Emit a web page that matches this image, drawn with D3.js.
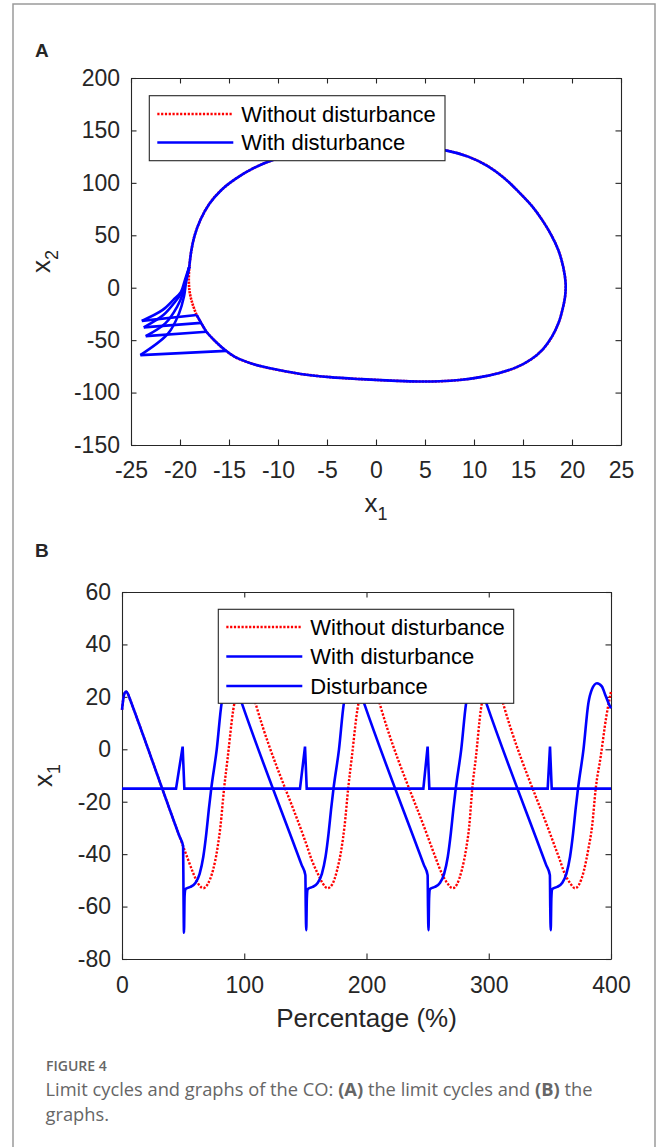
<!DOCTYPE html>
<html>
<head>
<meta charset="utf-8">
<script src="https://d3js.org/d3.v7.min.js"></script>
<style>
body { margin: 0; background: #fff; }
svg { display: block; }
.axis text { font-family: "Liberation Sans", Arial, sans-serif; font-size: 23px; fill: #262626; }
.axis path, .axis line { stroke: #262626; stroke-width: 1.1; }
.lab { font-family: "Liberation Sans", Arial, sans-serif; fill: #262626; }
.leg { font-family: "Liberation Sans", Arial, sans-serif; font-size: 22px; fill: #000; }
.cap { font-family: "Open Sans", "Noto Sans", sans-serif; fill: #666; }
</style>
</head>
<body>
<svg id="fig" width="659" height="1147"></svg>
<script>
// ---- panel A: limit cycle in the (x1, x2) plane, clockwise from the join point
var cycleX1 = [-19.05, -18.85, -18.5, -17.9, -17.0, -15.8, -14.3, -12.5, -10.3, -7.5, -4, 0, 4, 7.1, 9.4, 11.4, 13.1,
    14.6, 15.9, 17.0, 17.9, 18.6, 19.1, 19.35, 19.3, 19.05, 18.65, 18.0, 17.05, 15.8, 14.3, 12.5, 10.5, 8.5, 6.5, 4.3,
    2.1, -1.5, -4.7, -7.5, -9.8, -11.7, -13.2, -14.4, -15.3, -16.3, -17.3, -17.85, -18.3, -18.7, -19.0, -19.1, -19.05];
var cycleX2 = [20, 35, 50, 65, 80, 93, 104, 114, 122.5, 128.5, 132.5, 134.5, 134, 131, 125, 116, 104.5,
    91, 78, 64, 50, 36, 20, 4, -8, -20, -33, -46, -58.5, -68.5, -76, -81.5, -85.5, -88, -89.2, -89.4,
    -88.8, -87.2, -85.3, -82.5, -78.8, -75, -70.7, -66, -60.2, -52, -42, -33.5, -26, -16, -5, 7, 20];
var blueEnd = 48; // index where the last kick leaves the cycle

// the four kicks: start on the cycle, jump left, then curve back
var kickX1 = [-15.3, -17.3, -17.85, -18.3];
var kickX2 = [-60.2, -42, -33.5, -26];
var backX1 = [
    [-24.05, -21.2, -20.1, -19.6, -19.4, -19.05],
    [-23.5, -21.5, -20.3, -19.7, -19.4, -19.05],
    [-23.7, -21.7, -20.5, -19.8, -19.4, -19.05],
    [-23.9, -21.8, -20.7, -19.9, -19.5, -19.05]
];
var backX2 = [
    [-64.3, -43.6, -24.5, -8.7, 4.1, 20],
    [-46.2, -34, -18.2, -5.4, 7.3, 20],
    [-37.8, -26.1, -13.4, -3.9, 7.3, 20],
    [-31.6, -21.4, -11.8, -3.9, 7.3, 20]
];

var ticksAx = [-25, -20, -15, -10, -5, 0, 5, 10, 15, 20, 25];
var ticksAy = [-150, -100, -50, 0, 50, 100, 150, 200];

// ---- panel B: x1 against percentage
var redT = [0, 1, 2.2, 3.5, 5, 7, 47, 50, 54, 58.3, 62, 66.5, 70, 74.5, 78, 80.5, 83.5, 86.5, 91, 94, 99, 104, 108, 110.5,
    148, 151, 155, 160, 164, 168, 172, 176, 179.5, 182, 185, 188, 192.5, 195.5, 200.5, 205.5, 209.5, 212,
    250, 253, 257, 261.5, 266, 270.5, 274, 278, 281.5, 284, 286.5, 289.5, 293.5, 296.5, 301.5, 306.5, 310.5, 313,
    351, 354, 358, 362, 366.5, 370.5, 374, 378, 381.5, 384.5, 387.5, 391.5, 396, 400];
var redX1 = [15, 19, 21.5, 22, 21, 18.5, -33.2, -37, -42, -47.3, -51, -53, -51.5, -46, -38, -29.5, -15, -3, 15, 22, 26, 24.5, 19.5, 15.5,
    -32.6, -36.5, -42, -47.3, -51, -53, -51.5, -46, -38, -29.5, -15, -3, 15, 22, 26, 24.5, 19.5, 15.5,
    -33.2, -37, -42, -47.3, -51, -53, -51.5, -46, -38, -29.5, -15, -3, 15, 22, 26, 24.5, 19.5, 15.5,
    -33.2, -37, -42, -47.3, -51, -53, -51.5, -46, -38, -29.5, -15, -3, 12, 22];

var blueT = [0, 1, 2.2, 3.5, 5, 7, 47,
    50, 50.3, 50.7, 51.2, 51.8, 53, 56, 60, 63.5, 66.5, 69, 71, 73, 77.5, 81.5, 84.5, 88.5, 92.5, 95.5, 98, 147,
    150, 150.3, 150.7, 151.2, 151.8, 153, 156, 160, 163.5, 166.5, 169, 171, 173, 177.5, 181.5, 184.5, 188.5, 192.5, 195.5, 198, 247,
    250, 250.3, 250.7, 251.2, 251.8, 253, 256, 260, 263.5, 266.5, 269, 271, 273, 277.5, 281.5, 284.5, 288.5, 292.5, 295.5, 298, 347,
    350, 350.3, 350.7, 351.2, 351.8, 353, 356, 360, 363.5, 366.5, 369, 371, 373, 377.5, 381.5, 384.5, 388.5, 392.5, 395.5, 398, 400];
var blueX1 = [15, 19, 21.5, 22, 21, 18.5, -33.2,
    -37, -55, -70, -56, -53.5, -53, -52.5, -51, -47.5, -41, -32, -23, -15, 0, 17.6, 23, 25.5, 24.5, 21, 17.6, -44.2,
    -48, -60, -69, -57, -53.5, -53, -52.5, -51, -47.5, -41, -32, -23, -15, 0, 17.6, 23, 25.5, 24.5, 21, 17.6, -44.2,
    -48, -60, -69, -57, -53.5, -53, -52.5, -51, -47.5, -41, -32, -23, -15, 0, 17.6, 23, 25.5, 24.5, 21, 17.6, -44.2,
    -48, -60, -69, -57, -53.5, -53, -52.5, -51, -47.5, -41, -32, -23, -15, 0, 17.6, 23, 25.2, 24, 20.5, 17.6, 15.6];

var distT = [0, 44.2, 49.6, 51, 145.6, 149.7, 151.1, 246.5, 250, 251.4, 348.2, 350.1, 351.5, 400];
var distV = [-15, -15, 1, -15, -15, 1, -15, -15, 1, -15, -15, 1, -15, -15];

var ticksBx = [0, 100, 200, 300, 400];
var ticksBy = [-80, -60, -40, -20, 0, 20, 40, 60];

var legendA = ["Without disturbance", "With disturbance"];
var legendB = ["Without disturbance", "With disturbance", "Disturbance"];

var BLUE = "#0000ff", RED = "#ff0000";

var svg = d3.select("#fig");
svg.append("rect").attr("width", 659).attr("height", 1147).attr("fill", "#fff");
// figure frame
svg.append("rect").attr("x", 13).attr("y", 4).attr("width", 642).attr("height", 1200)
    .attr("fill", "none").attr("stroke", "#9a9a9a").attr("stroke-width", 1.5);

// box axes with inward ticks on all four sides
function addAxes(x, y, xt, yt, xPad) {
    var left = x.range()[0], right = x.range()[1], bottom = y.range()[0], top = y.range()[1];
    var fmt = function(d) { return String(d); };
    svg.append("g").attr("class", "axis").attr("transform", "translate(0," + bottom + ")")
        .call(d3.axisBottom(x).tickValues(xt).tickSizeInner(-5.5).tickSizeOuter(0).tickPadding(xPad).tickFormat(fmt));
    svg.append("g").attr("class", "axis").attr("transform", "translate(0," + top + ")")
        .call(d3.axisTop(x).tickValues(xt).tickSizeInner(-5.5).tickSizeOuter(0).tickFormat(""));
    svg.append("g").attr("class", "axis").attr("transform", "translate(" + left + ",0)")
        .call(d3.axisLeft(y).tickValues(yt).tickSizeInner(-5.5).tickSizeOuter(0).tickPadding(11).tickFormat(fmt));
    svg.append("g").attr("class", "axis").attr("transform", "translate(" + right + ",0)")
        .call(d3.axisRight(y).tickValues(yt).tickSizeInner(-5.5).tickSizeOuter(0).tickFormat(""));
    svg.selectAll(".axis .domain").attr("stroke", "#262626");
}

function addLegend(bx, by, bw, bh, rowY, labels, styles) {
    var g = svg.append("g");
    g.append("rect").attr("x", bx).attr("y", by).attr("width", bw).attr("height", bh)
        .attr("fill", "#fff").attr("stroke", "#262626").attr("stroke-width", 1.1);
    labels.forEach(function(t, i) {
        g.append("line").attr("x1", bx + 8).attr("x2", bx + 84).attr("y1", rowY[i]).attr("y2", rowY[i])
            .attr("stroke", styles[i].color).attr("stroke-width", styles[i].w)
            .attr("stroke-dasharray", styles[i].dash);
        g.append("text").attr("class", "leg").attr("x", bx + 92).attr("y", rowY[i]).attr("dy", "0.36em").text(t);
    });
}

// subscripted axis label, e.g. x with 1
function subLabel(x, y, rot, base, sub) {
    var t = svg.append("text").attr("class", "lab").attr("text-anchor", "middle")
        .attr("transform", "translate(" + x + "," + y + ")" + (rot ? " rotate(-90)" : ""));
    t.append("tspan").attr("font-size", 26).text(base);
    t.append("tspan").attr("font-size", 18).attr("dy", 8).text(sub);
}

var dotted = { color: RED, w: 2.4, dash: "2.2,1.6" };
var solid = { color: BLUE, w: 2.6, dash: null };

// ===== panel A
var xA = d3.scaleLinear().domain([-25, 25]).range([131, 621]);
var yA = d3.scaleLinear().domain([-150, 200]).range([445, 78]);
addAxes(xA, yA, ticksAx, ticksAy, 16.7);

var lineA = d3.line().x(function(d) { return xA(d[0]); }).y(function(d) { return yA(d[1]); });
var cycle = cycleX1.map(function(v, i) { return [v, cycleX2[i]]; });

svg.append("path").attr("d", lineA.curve(d3.curveCatmullRom.alpha(0.5))(cycle))
    .attr("fill", "none").attr("stroke", RED).attr("stroke-width", 2.6).attr("stroke-dasharray", "2.2,1");
svg.append("path").attr("d", lineA.curve(d3.curveCatmullRom.alpha(0.5))(cycle.slice(0, blueEnd + 1)))
    .attr("fill", "none").attr("stroke", BLUE).attr("stroke-width", 2.6);

kickX1.forEach(function(k, i) {
    var back = backX1[i].map(function(v, j) { return [v, backX2[i][j]]; });
    svg.append("path").attr("d", lineA.curve(d3.curveLinear)([[k, kickX2[i]], back[0]]))
        .attr("fill", "none").attr("stroke", BLUE).attr("stroke-width", 2.6);
    svg.append("path").attr("d", lineA.curve(d3.curveCatmullRom.alpha(0.5))(back))
        .attr("fill", "none").attr("stroke", BLUE).attr("stroke-width", 2.6);
});

addLegend(149.3, 95.7, 295.7, 65, [114, 142.5], legendA, [dotted, solid]);
subLabel(376, 512, false, "x", "1");
subLabel(50, 261.5, true, "x", "2");

// ===== panel B
var xB = d3.scaleLinear().domain([0, 400]).range([122, 611]);
var yB = d3.scaleLinear().domain([-80, 60]).range([959, 592]);
addAxes(xB, yB, ticksBx, ticksBy, 17.7);

var lineB = d3.line().x(function(d) { return xB(d[0]); }).y(function(d) { return yB(d[1]); });

svg.append("path").attr("d", lineB.curve(d3.curveMonotoneX)(redT.map(function(t, i) { return [t, redX1[i]]; })))
    .attr("fill", "none").attr("stroke", RED).attr("stroke-width", 2.4).attr("stroke-dasharray", "2.2,1.6");
svg.append("path").attr("d", lineB.curve(d3.curveMonotoneX)(blueT.map(function(t, i) { return [t, blueX1[i]]; })))
    .attr("fill", "none").attr("stroke", BLUE).attr("stroke-width", 2.6);
svg.append("path").attr("d", lineB.curve(d3.curveLinear)(distT.map(function(t, i) { return [t, distV[i]]; })))
    .attr("fill", "none").attr("stroke", BLUE).attr("stroke-width", 2.6);

addLegend(218.3, 609.3, 295.4, 94, [627, 656.5, 686], legendB, [dotted, solid, solid]);
svg.append("text").attr("class", "lab").attr("x", 366.5).attr("y", 1027).attr("text-anchor", "middle")
    .attr("font-size", 26).text("Percentage (%)");
subLabel(52, 775.5, true, "x", "1");

// panel letters
svg.append("text").attr("class", "lab").attr("x", 35).attr("y", 57).attr("font-size", 19)
    .attr("font-weight", "bold").attr("fill", "#000").text("A");
svg.append("text").attr("class", "lab").attr("x", 35).attr("y", 557).attr("font-size", 19)
    .attr("font-weight", "bold").attr("fill", "#000").text("B");

// caption
svg.append("text").attr("class", "cap").attr("x", 46).attr("y", 1071).attr("font-size", 14)
    .attr("font-weight", 600).attr("fill", "#707070").text("FIGURE 4");
var cap1 = svg.append("text").attr("class", "cap").attr("x", 45.5).attr("y", 1096).attr("font-size", 18.3);
cap1.append("tspan").text("Limit cycles and graphs of the CO: ");
cap1.append("tspan").attr("font-weight", "bold").text("(A)");
cap1.append("tspan").text(" the limit cycles and ");
cap1.append("tspan").attr("font-weight", "bold").text("(B)");
cap1.append("tspan").text(" the");
svg.append("text").attr("class", "cap").attr("x", 45.5).attr("y", 1121).attr("font-size", 18.3).text("graphs.");
</script>
</body>
</html>
